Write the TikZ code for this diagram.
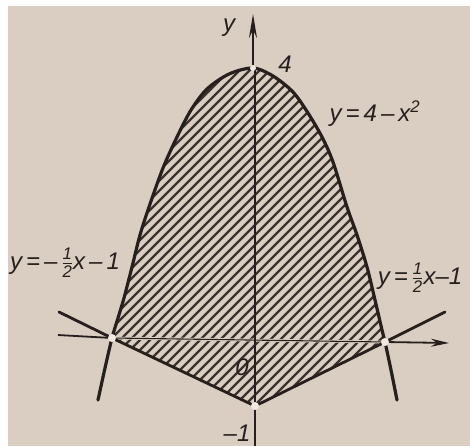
\documentclass[tikz,border=0pt]{standalone}
\usepackage{fontspec}
\usepackage{amsmath}
\setmainfont{Liberation Sans}
\usetikzlibrary{arrows.meta}
\definecolor{paper}{RGB}{218,205,194}
\definecolor{ink}{RGB}{38,31,28}
\definecolor{hatchink}{RGB}{60,50,45}
\definecolor{dotfill}{RGB}{240,233,226}
\tikzset{
  curve/.style={ink, line width=3.2pt, line cap=round, line join=round},
  graphline/.style={ink, line width=2.8pt, line cap=round},
  axis/.style={ink, line width=1.8pt},
  innerax/.style={ink, line width=1.1pt},
  gap/.style={paper, line width=2.8pt},
  hatch/.style={hatchink, line width=2.3pt},
  lbl/.style={ink, font=\fontsize{24}{26}\selectfont\itshape, inner sep=0pt},
  dot/.style={circle, fill=dotfill, inner sep=0pt, minimum size=8pt},
}
\begin{document}
\begin{tikzpicture}[x=1pt,y=-1pt]
\fill[white] (0,0) rectangle (470,446);
\fill[paper] (8,6) rectangle (470,446);
\useasboundingbox (0,0) rectangle (470,446);

% key points
\coordinate (A) at (112,338);
\coordinate (B) at (385,342);
\coordinate (C) at (255,406);
\coordinate (T) at (253,68);
\coordinate (L1) at (59,312);
\coordinate (R1) at (445,312);
\coordinate (XL) at (58,335);
\coordinate (XR) at (449,343);
\coordinate (YB) at (255,446);
\coordinate (YT) at (253,14);

% hatching
\begin{scope}
\clip plot[smooth] coordinates {(112,338) (118,318) (124,298) (132,267) (140,235) (149,207) (163,168) (177,137) (191,110) (207,89) (229,74) (253,68) (273,76) (293,92) (308,113) (322,137) (333,162) (347,207) (357,235) (367,267) (375,300) (382,330) (385,342)} -- (C) -- cycle;
\foreach \c in {170,180,...,820} \draw[hatch] ({\c-460},460) -- (\c,0);
\draw[gap] (255,60) -- (C);
\draw[gap] (A) -- (B);
\draw[innerax] (255,60) -- (C);
\draw[innerax] (A) -- (B);
\end{scope}

% axes
\draw[axis] (XL) -- (A);
\draw[axis, -{Stealth[length=18pt,width=8pt]}] (B) -- (XR);
\draw[axis] (YB) -- (C);
\draw[axis, -{Stealth[length=24pt,width=8pt]}] (T) -- (YT);

% parabola
\draw[curve] plot[smooth] coordinates {(98,400) (105,368) (112,338) (118,318) (124,298) (132,267) (140,235) (149,207) (163,168) (177,137) (191,110) (207,89) (229,74) (253,68) (273,76) (293,92) (308,113) (322,137) (333,162) (347,207) (357,235) (367,267) (375,300) (382,330) (385,342) (391,370) (397,400)};

% lines
\draw[graphline] (L1) -- (A) -- (C) -- (B) -- (R1);

% points
\node[dot] (pA) at (A) {};
\node[dot] (pB) at (B) {};
\node[dot] (pC) at (C) {};
\node[dot, minimum size=6pt] (pT) at (T) {};

% labels
\node[lbl] (ly) at (229,28) {y};
\node[lbl] (l4) at (285,64) {4};
\node[lbl] (lpar) at (375,114) {y\,=\,4\,–\,x\textsuperscript{2}};
\node[lbl] (lleft) at (65,263) {y\,=\,–\,$\frac{\textit{1}}{\textit{2}}$x\,–\,1};
\node[lbl] (lright) at (420,278) {y\,=\,$\frac{\textit{1}}{\textit{2}}$x–1};
\node[lbl] (l0) at (242,367) {0};
\node[lbl] (lm1) at (237,433) {–1};
\end{tikzpicture}
\end{document}
